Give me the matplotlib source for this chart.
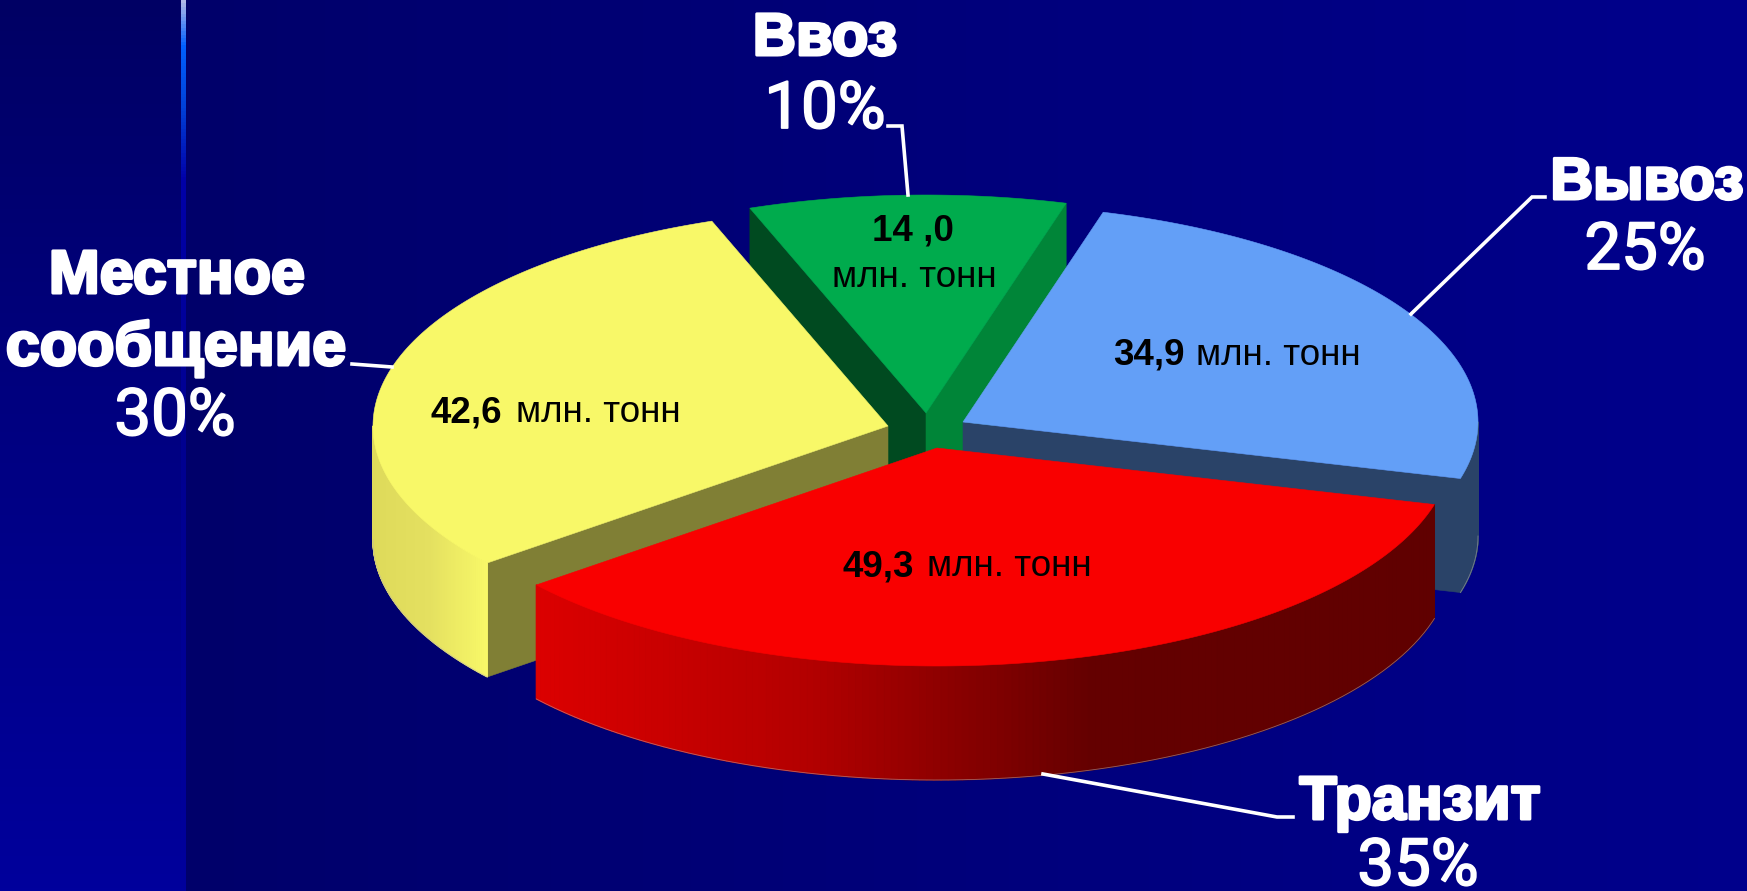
import numpy as np
import matplotlib
matplotlib.use("Agg")
import matplotlib.pyplot as plt
from matplotlib.colors import LinearSegmentedColormap as LSC
from matplotlib.collections import PolyCollection
from matplotlib.patches import Polygon
import matplotlib.patheffects as pe

# ---- data ----
categories = ["Ввоз", "Вывоз", "Транзит", "Местное\nсообщение"]
tonnes = [14.0, 34.9, 49.3, 42.6]
percents = ["10%", "25%", "35%", "30%"]

# ---- layout / style ----
W, H = 1747, 891
START = 110.0
RX, RY, DEPTH = 515.0, 218.0, 114.0
APEX = [(926, 413), (963, 422), (937, 448), (888, 426)]
TOP = ["#00AB4D", "#639FF7", "#F90000", "#F8F868"]
ARM = "Liberation Sans"

fig = plt.figure(figsize=(W / 100, H / 100), dpi=100)
ax = fig.add_axes([0, 0, 1, 1])
ax.set_xlim(0, W)
ax.set_ylim(H, 0)
ax.axis("off")

# background
bg_r = LSC.from_list("r", ["#00006A", "#00008C"])
ax.imshow(np.linspace(0, 1, 256)[None, :], extent=(185, W, H, 0), cmap=bg_r, aspect="auto", zorder=0)
bg_l = LSC.from_list("l", ["#000064", "#000082", "#00009C"])
ax.imshow(np.linspace(0, 1, 256)[:, None], extent=(0, 185, H, 0), cmap=bg_l, aspect="auto", zorder=0)
glow = LSC.from_list("g", [(0, "#B0B8E8"), (0.05, "#0060FF"), (0.12, "#0040D8"),
                           (0.2, "#0000A8"), (0.5, "#000090"), (1, "#00009C")])
ax.imshow(np.linspace(0, 1, 256)[:, None], extent=(181, 186, H, 0), cmap=glow, aspect="auto", zorder=0)
ax.set_xlim(0, W)
ax.set_ylim(H, 0)

# angles from the values
fracs = np.array(tonnes) / sum(tonnes)
edges = START - np.concatenate([[0], np.cumsum(fracs)]) * 360.0


def rim(apex, a):
    r = np.radians(a)
    return apex[0] + RX * np.cos(r), apex[1] - RY * np.sin(r)


def top_poly(i, z):
    th = np.linspace(edges[i], edges[i + 1], 200)
    x, y = rim(APEX[i], th)
    pts = np.column_stack([np.r_[APEX[i][0], x], np.r_[APEX[i][1], y]])
    ax.add_patch(Polygon(pts, closed=True, fc=TOP[i], ec=TOP[i], lw=0.4, zorder=z))


def cut_face(i, a, color, z):
    x, y = rim(APEX[i], a)
    ax0, ay0 = APEX[i]
    pts = [(ax0, ay0), (x, y), (x, y + DEPTH), (ax0, ay0 + DEPTH)]
    ax.add_patch(Polygon(pts, closed=True, fc=color, ec=color, lw=0.4, zorder=z))


def outer(i, a0, a1, cmap, x0, x1, z):
    th = np.linspace(a0, a1, 160)
    x, y = rim(APEX[i], th)
    quads, cols = [], []
    for k in range(len(th) - 1):
        quads.append([(x[k], y[k]), (x[k + 1], y[k + 1]),
                      (x[k + 1], y[k + 1] + DEPTH), (x[k], y[k] + DEPTH)])
        cols.append(cmap(np.clip((0.5 * (x[k] + x[k + 1]) - x0) / (x1 - x0), 0, 1)))
    ax.add_collection(PolyCollection(quads, facecolors=cols, edgecolors=cols, linewidths=0.9, zorder=z))
    ax.plot(x, y + DEPTH, color="#B8B0B0", lw=0.6, alpha=0.55, zorder=z + 0.1)


# green (Ввоз)
cut_face(0, edges[0], "#004A20", 1)
cut_face(0, edges[1], "#008538", 1.1)
top_poly(0, 1.2)
# blue (Вывоз)
cut_face(1, edges[2], "#2A4368", 2)
outer(1, 0, edges[2], LSC.from_list("b", ["#2A4368", "#2A4368"]), 0, 1, 2.1)
top_poly(1, 2.2)
# yellow (Местное сообщение)
cut_face(3, edges[3], "#807F35", 3)
outer(3, -180, edges[3], LSC.from_list("y", ["#DEDA5A", "#E4E060", "#F8F868"]), 372, 487, 3.1)
top_poly(3, 3.2)
# red (Транзит)
outer(2, edges[3], edges[2], LSC.from_list("red", [(0, "#DC0000"), (0.3, "#B40000"),
                                                  (0.62, "#640000"), (1, "#600000")]), 535, 1434, 4)
top_poly(2, 4.2)

# leader lines
leaders = [
    ([888, 902, 908], [126, 126, 195]),
    ([1545, 1532, 1411], [197, 197, 314]),
    ([352, 392], [364, 367]),
    ([1043, 1277, 1293], [774, 817, 817]),
]
for lx, ly in leaders:
    ax.plot(lx, ly, color="white", lw=2.6, solid_joinstyle="miter", zorder=5)

# outside labels
stroke = [pe.withStroke(linewidth=2.2, foreground="white")]
thin = [pe.withStroke(linewidth=1.3, foreground="white")]


def head(x, y, s, fs=43):
    ax.text(x, y, s, color="white", family=ARM, weight="bold", fontsize=fs, ha="center",
            va="baseline", path_effects=stroke, zorder=6)


def pct(x, y, s):
    ax.text(x, y, s, color="white", family="Roboto", fontsize=47, ha="center", va="baseline",
            path_effects=thin, zorder=6)


head(825, 55, "Ввоз")
pct(825, 128, percents[0])
head(1647, 199, "Вывоз", 42.5)
pct(1645, 269, percents[1])
head(1420, 819, "Транзит", 44)
pct(1418, 885, percents[2])
local = categories[3].split("\n")
head(177, 293, local[0], 44)
head(176, 365, local[1], 44)
pct(175, 435, percents[3])

# inside labels
FS = 26.5


def inside(x0, x1, y, val):
    ax.text(x0, y, val, family=ARM, weight="bold", fontsize=FS, color="black", ha="left", va="baseline", zorder=6)
    ax.text(x1, y, "млн. тонн", family=ARM, fontsize=FS, color="black", ha="right", va="baseline", zorder=6)


fmt = lambda v: f"{v:.1f}".replace(".", ",")
inside(431, 681, 422, fmt(tonnes[3]))
inside(1113, 1361, 365, fmt(tonnes[1]))
inside(843, 1092, 576, fmt(tonnes[2]))
ax.text(913, 240, "14 ,0", family=ARM, weight="bold", fontsize=FS, color="black", ha="center", va="baseline", zorder=6)
ax.text(914, 287, "млн. тонн", family=ARM, fontsize=FS, color="black", ha="center", va="baseline", zorder=6)

fig.savefig("out.png", dpi=100)
